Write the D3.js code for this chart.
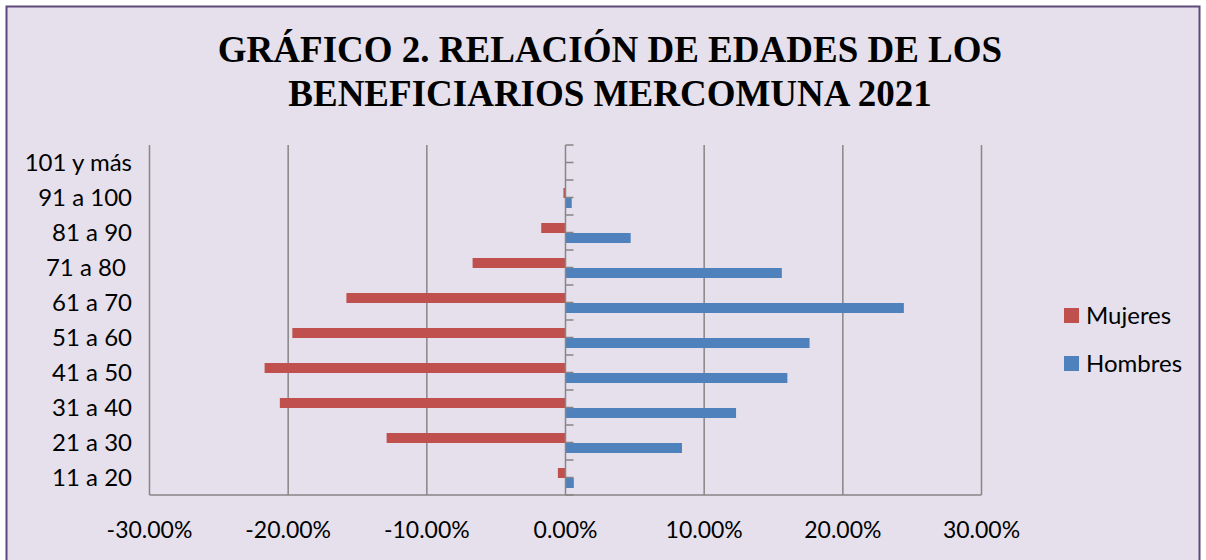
<!DOCTYPE html>
<html>
<head>
<meta charset="utf-8">
<script src="https://cdn.jsdelivr.net/npm/d3@7/dist/d3.min.js"></script>
<style>
  body { margin: 0; background: #fff; }
  svg { display: block; }
</style>
</head>
<body>
<div id="chart"></div>
<script>
// age groups, bottom to top as in the picture
var categories = ["11 a 20", "21 a 30", "31 a 40", "41 a 50", "51 a 60",
                  "61 a 70", "71 a 80 ", "81 a 90", "91 a 100", "101 y más"];
var mujeres = [-0.0055, -0.129, -0.206, -0.217, -0.197, -0.158, -0.067, -0.0175, -0.0015, 0];
var hombres = [0.006, 0.084, 0.123, 0.160, 0.176, 0.244, 0.156, 0.047, 0.0045, 0];
var xTicks = [-0.3, -0.2, -0.1, 0, 0.1, 0.2, 0.3];
var titleLines = ["GRÁFICO 2. RELACIÓN DE EDADES DE LOS", "BENEFICIARIOS MERCOMUNA 2021"];
var legendItems = [
    { name: "Mujeres", color: "#c0504d" },
    { name: "Hombres", color: "#4f81bd" }
];

var width = 1206, height = 560;
var plot = { left: 149.5, right: 981.5, top: 145, bottom: 495 };
var labelFont = "Lato, 'Noto Sans', sans-serif";

var svg = d3.select("#chart").append("svg")
    .attr("width", width)
    .attr("height", height);

// background frame
svg.append("rect")
    .attr("x", 6.5)
    .attr("y", 6.5)
    .attr("width", 1193)
    .attr("height", 570)
    .attr("fill", "#e5e0ec")
    .attr("stroke", "#5f497a")
    .attr("stroke-width", 2);

// title
svg.selectAll(".title")
    .data(titleLines)
    .enter()
    .append("text")
    .attr("class", "title")
    .attr("x", 610)
    .attr("y", function (d, i) {
        return 62 + i * 44;
    })
    .attr("text-anchor", "middle")
    .attr("font-family", "'Liberation Serif', 'Times New Roman', serif")
    .attr("font-weight", "bold")
    .attr("font-size", "37px")
    .attr("fill", "#000")
    .text(function (d) {
        return d;
    });

var x = d3.scaleLinear()
    .domain([-0.3, 0.3])
    .range([plot.left, plot.right]);

var y = d3.scaleBand()
    .domain(categories.slice().reverse())
    .range([plot.top, plot.bottom]);

var bw = y.bandwidth();

// vertical gridlines
svg.selectAll(".grid")
    .data(xTicks.filter(function (d) { return d !== 0; }))
    .enter()
    .append("line")
    .attr("class", "grid")
    .attr("x1", function (d) { return x(d); })
    .attr("x2", function (d) { return x(d); })
    .attr("y1", plot.top)
    .attr("y2", plot.bottom)
    .attr("stroke", "#868686")
    .attr("stroke-width", 1.5);

// bottom edge of plot
svg.append("line")
    .attr("x1", plot.left)
    .attr("x2", plot.right)
    .attr("y1", plot.bottom)
    .attr("y2", plot.bottom)
    .attr("stroke", "#868686")
    .attr("stroke-width", 1.5);

// bars
var barH = 10;
svg.selectAll(".mujeres")
    .data(mujeres)
    .enter()
    .append("rect")
    .attr("class", "mujeres")
    .attr("x", function (d) { return x(Math.min(0, d)); })
    .attr("width", function (d) { return Math.abs(x(d) - x(0)); })
    .attr("y", function (d, i) { return y(categories[i]) + bw / 2 - barH + 0.5; })
    .attr("height", barH)
    .attr("fill", "#c0504d");

svg.selectAll(".hombres")
    .data(hombres)
    .enter()
    .append("rect")
    .attr("class", "hombres")
    .attr("x", function (d) { return x(Math.min(0, d)); })
    .attr("width", function (d) { return Math.abs(x(d) - x(0)); })
    .attr("y", function (d, i) { return y(categories[i]) + bw / 2 + 0.5; })
    .attr("height", barH)
    .attr("fill", "#4f81bd");

// central vertical axis with half-band ticks
var tickYs = [];
categories.forEach(function (c) {
    tickYs.push(y(c));
    tickYs.push(y(c) + bw / 2);
});
tickYs.push(plot.bottom);

svg.selectAll(".ytick")
    .data(tickYs)
    .enter()
    .append("line")
    .attr("class", "ytick")
    .attr("x1", x(0))
    .attr("x2", x(0) + 8)
    .attr("y1", function (d) { return d; })
    .attr("y2", function (d) { return d; })
    .attr("stroke", "#868686")
    .attr("stroke-width", 1.5);

svg.append("line")
    .attr("x1", x(0))
    .attr("x2", x(0))
    .attr("y1", plot.top)
    .attr("y2", plot.bottom)
    .attr("stroke", "#868686")
    .attr("stroke-width", 1.5);

// category labels
svg.selectAll(".cat")
    .data(categories)
    .enter()
    .append("text")
    .attr("class", "cat")
    .attr("x", 132)
    .attr("y", function (d) { return y(d) + bw / 2; })
    .attr("dy", "0.35em")
    .attr("text-anchor", "end")
    .attr("font-family", labelFont)
    .attr("font-size", "24px")
    .attr("fill", "#000")
    .attr("xml:space", "preserve")
    .text(function (d) { return d; });

// x tick labels
var pct = d3.format(".2%");
svg.selectAll(".xlab")
    .data(xTicks)
    .enter()
    .append("text")
    .attr("class", "xlab")
    .attr("x", function (d) { return x(d); })
    .attr("y", 530)
    .attr("dy", "0.35em")
    .attr("text-anchor", "middle")
    .attr("font-family", labelFont)
    .attr("font-size", "23px")
    .attr("fill", "#000")
    .text(function (d) { return pct(d).replace("−", "-"); });

// legend
var legend = svg.selectAll(".legend")
    .data(legendItems)
    .enter()
    .append("g")
    .attr("class", "legend")
    .attr("transform", function (d, i) {
        return "translate(1064," + (308 + i * 48) + ")";
    });

legend.append("rect")
    .attr("width", 15)
    .attr("height", 15)
    .attr("fill", function (d) { return d.color; });

legend.append("text")
    .attr("x", 22)
    .attr("y", 7.5)
    .attr("dy", "0.35em")
    .attr("font-family", labelFont)
    .attr("font-size", "24px")
    .attr("fill", "#000")
    .text(function (d) { return d.name; });
</script>
</body>
</html>
